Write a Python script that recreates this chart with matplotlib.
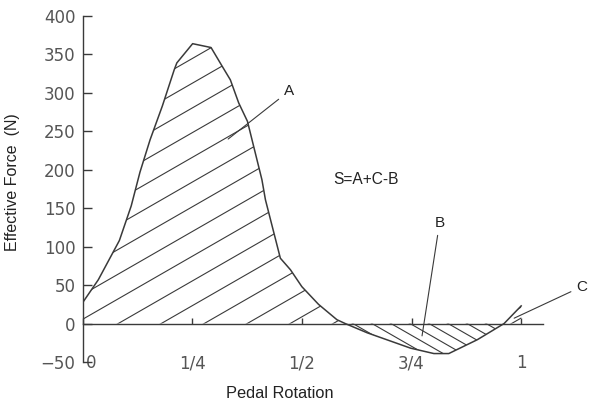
import numpy as np
import matplotlib
matplotlib.use("Agg")
import matplotlib.pyplot as plt
import matplotlib.transforms as mtransforms

# Pedal force curve
rotation = [0, 0.036, 0.084, 0.111, 0.131, 0.154, 0.182, 0.209, 0.215, 0.251, 0.293,
            0.318, 0.337, 0.356, 0.376, 0.409, 0.417, 0.451, 0.474, 0.5, 0.538,
            0.58, 0.599, 0.649, 0.748, 0.801, 0.835, 0.9, 0.961, 1.0]
force = [27, 57, 108, 153, 197, 239, 283, 330, 339, 364, 359,
         335, 317, 287, 263, 187, 161, 85, 70, 48, 25,
         5, 0, -12, -32, -39, -39, -21, 0, 23]

x_ticks = [0, 0.25, 0.5, 0.75, 1]
x_tick_labels = ["0", "1/4", "1/2", "3/4", "1"]
y_ticks = [-50, 0, 50, 100, 150, 200, 250, 300, 350, 400]

# area labels: (text, text position, leader end)
area_labels = [
    ("A", (0.470, 302), (0.332, 240)),
    ("B", (0.814, 131), (0.774, -16)),
    ("C", (1.138, 48), (0.984, 7)),
]

LINE = "#3a3a3a"
TEXT = "#222222"
TICK = "#555555"

fig = plt.figure(figsize=(5.92, 4.03), dpi=100)
ax = fig.add_axes([0.1394, 0.1017, 0.778, 0.8586])

x = np.array(rotation)
y = np.array(force)

ax.plot(x, y, color=LINE, lw=1.1, zorder=3)

# regions above / below zero (filled with nothing, used as hatch clips)
reg_a = ax.fill_between(x, y, 0, where=(y >= 0) & (x < 0.8), interpolate=True,
                        facecolor="none", edgecolor="none")
reg_b = ax.fill_between(x, y, 0, where=y <= 0, interpolate=True,
                        facecolor="none", edgecolor="none")
reg_c = ax.fill_between(x, y, 0, where=(y >= 0) & (x > 0.8), interpolate=True,
                        facecolor="none", edgecolor="none")


def hatch(region, start, step, slope, count):
    """draw straight hatch lines clipped to a filled region"""
    path = region.get_paths()[0]
    ys = np.array([-60, 420])
    for k in range(count):
        xi = start + k * step
        ln, = ax.plot(xi + ys / slope, ys, color=LINE, lw=0.8, zorder=2)
        ln.set_clip_path(path, ax.transData)


slope = 328.0
hatch(reg_a, 0.0813 - 9 * 0.098, 0.098, slope, 16)
hatch(reg_b, 0.660 - 5 * 0.0434, 0.0434, -slope, 13)
hatch(reg_c, 0.978 - 3 * 0.0434, 0.0434, slope, 4)

for name, txt_pos, end in area_labels:
    ax.annotate(name, xy=end, xytext=txt_pos, ha="center", va="center",
                fontsize=11, color=TEXT, family="Liberation Sans",
                annotation_clip=False,
                arrowprops=dict(arrowstyle="-", color=LINE, lw=0.8,
                                shrinkA=2, shrinkB=0))

ax.text(0.572, 187, "S=A+C-B", ha="left", va="center", fontsize=11.2,
        color=TEXT, family="Liberation Sans")

ax.set_xlim(0, 1.05)
ax.set_ylim(-50, 400)

for side in ("top", "right"):
    ax.spines[side].set_visible(False)
ax.spines["bottom"].set_position(("data", 0))
ax.spines["left"].set_color(LINE)
ax.spines["bottom"].set_color(LINE)
ax.spines["left"].set_linewidth(1.0)
ax.spines["bottom"].set_linewidth(1.0)

ax.set_yticks(y_ticks)
ax.set_xticks(x_ticks)
ax.set_xticklabels(x_tick_labels)
ax.tick_params(axis="y", direction="in", length=6.5, width=1.0, color=LINE,
               pad=5, labelsize=12, labelcolor=TICK)
ax.tick_params(axis="x", direction="in", length=4.5, width=1.0, color=LINE,
               pad=22, labelsize=12, labelcolor=TICK)

# the "0" label sits a little right of the axis corner
offset = mtransforms.ScaledTranslation(6 / 72, 0, fig.dpi_scale_trans)
first = ax.get_xticklabels()[0]
first.set_transform(first.get_transform() + offset)

ax.set_ylabel("Effective Force  (N)", fontsize=11.5, color=TEXT,
              family="Liberation Sans")
ax.yaxis.set_label_coords(-0.136, 0.52)
ax.set_xlabel("Pedal Rotation", fontsize=11.8, color=TEXT,
              family="Liberation Sans")
ax.xaxis.set_label_coords(0.428, -0.07)

fig.savefig("out.png", dpi=100)
